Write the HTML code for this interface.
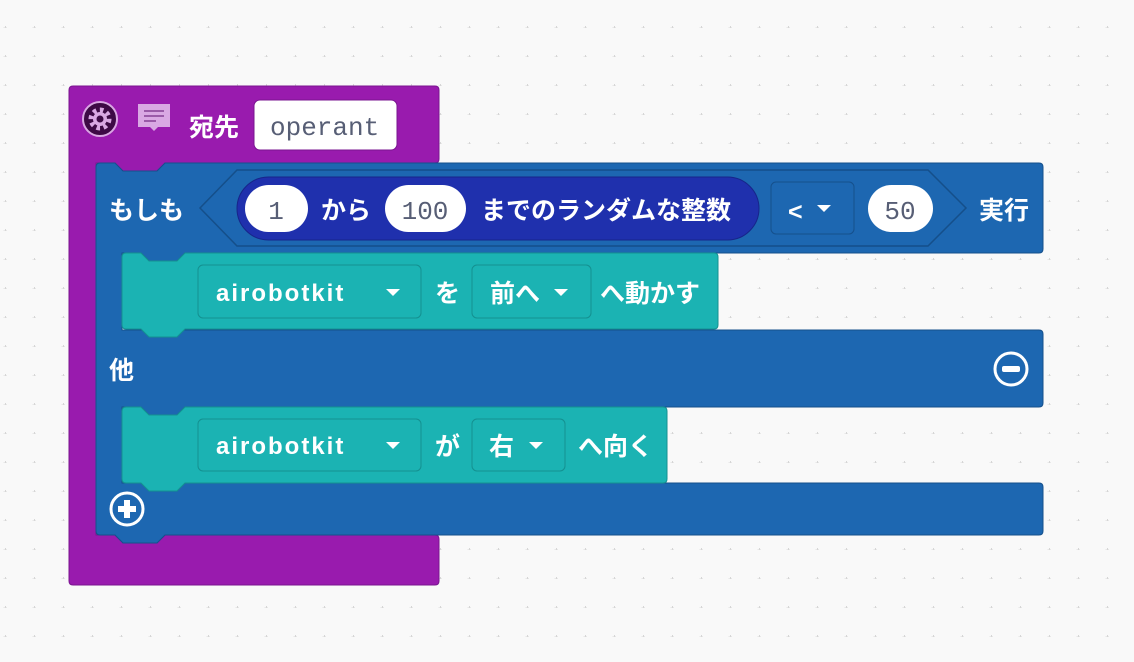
<!DOCTYPE html>
<html><head><meta charset="utf-8"><style>
html,body{margin:0;padding:0;background:#f9f9f9;}
svg{display:block}
.t{font-family:"Liberation Sans","Noto Sans CJK JP",sans-serif;font-weight:bold;font-size:25px;fill:#fff}
.a{font-family:"Liberation Sans",sans-serif;font-weight:bold;font-size:24px;fill:#fff;letter-spacing:2px}
.m{font-family:"Liberation Mono","DejaVu Sans Mono",monospace;font-size:26px;fill:#575e75}
</style></head><body>
<svg width="1134" height="662" viewBox="0 0 1134 662" xmlns="http://www.w3.org/2000/svg">
<defs><pattern id="g" x="-22" y="-1" width="29" height="29" patternUnits="userSpaceOnUse">
<path d="M27.5,27V31 M25.5,29H29.5" stroke="#d6d6d6" stroke-width="1"/></pattern></defs>
<rect width="1134" height="662" fill="#f9f9f9"/>
<rect width="1134" height="662" fill="url(#g)"/>
<!-- purple -->
<path d="M69,90 Q69,86 73,86 H435 Q439,86 439,90 V159 Q439,163 435,163 H165 L157,171 H123 L115,163 H96 V535 H115 L123,543 H157 L165,535 H435 Q439,535 439,539 V581 Q439,585 435,585 H73 Q69,585 69,581 Z" fill="#991bae" stroke="#7a1590"/>
<circle cx="100" cy="119" r="17" fill="#3d0a45" stroke="#d9a8e3" stroke-width="2"/>
<circle cx="100" cy="119" r="9" fill="none" stroke="#d9a8e3" stroke-width="5" stroke-dasharray="3.5 3.5"/>
<circle cx="100" cy="119" r="7" fill="#d9a8e3"/><circle cx="100" cy="119" r="3.5" fill="#3d0a45"/>
<path d="M138,104 H170 V127 H158 L154,131 L150,127 H138 Z" fill="#d9a8e3"/>
<path d="M144,111H164M144,116H164M144,121H156" stroke="#9a5aa8" stroke-width="2"/>
<text x="189" y="136" class="t">宛先</text>
<rect x="254" y="100" width="143" height="50" rx="6" fill="#fff" stroke="#7a1590"/>
<text x="270" y="135" class="m">operant</text>
<!-- blue -->
<path d="M96,167 Q96,163 100,163 H115 L123,171 H157 L165,163 H1039 Q1043,163 1043,167 V249 Q1043,253 1039,253 H185 L177,261 H149 L141,253 H122 V330 H1039 Q1043,330 1043,334 V403 Q1043,407 1039,407 H185 L177,415 H149 L141,407 H122 V483 H1039 Q1043,483 1043,487 V531 Q1043,535 1039,535 H165 L157,543 H123 L115,535 H100 Q96,535 96,531 Z" fill="#1d67b1" stroke="#15508c"/>
<text x="109" y="219" class="t">もしも</text>
<path d="M200,208 L237,170 H928 L966,208 L928,246 H237 Z" fill="#1d67b1" stroke="#154f8a" stroke-width="1.5"/>
<rect x="237" y="177" width="522" height="63" rx="31.5" fill="#1f30ad" stroke="#17258a"/>
<rect x="245" y="185" width="63" height="47" rx="23.5" fill="#fff"/>
<text x="276" y="219" class="m" text-anchor="middle">1</text>
<text x="321" y="219" class="t">から</text>
<rect x="385" y="185" width="81" height="47" rx="23.5" fill="#fff"/>
<text x="425" y="219" class="m" text-anchor="middle">100</text>
<text x="481" y="219" class="t">までのランダムな整数</text>
<rect x="771" y="182" width="83" height="52" rx="5" fill="#1d67b1" stroke="#15508c"/>
<text x="788" y="220" class="t">&lt;</text>
<path d="M817,205 h14 l-7,7 z" fill="#fff"/>
<rect x="868" y="185" width="65" height="47" rx="23.5" fill="#fff"/>
<text x="900" y="219" class="m" text-anchor="middle">50</text>
<text x="979" y="219" class="t">実行</text>
<text x="109" y="379" class="t">他</text>
<circle cx="1011" cy="369" r="16" fill="none" stroke="#fff" stroke-width="3"/>
<rect x="1002" y="366" width="18" height="6" rx="2" fill="#fff"/>
<circle cx="127" cy="509" r="16" fill="none" stroke="#fff" stroke-width="3"/>
<path d="M127,500 V518 M118,509 H136" stroke="#fff" stroke-width="6"/>
<!-- teal 1 -->
<path d="M122,257 Q122,253 126,253 H141 L149,261 H177 L185,253 H714 Q718,253 718,257 V325 Q718,329 714,329 H185 L177,337 H149 L141,329 H126 Q122,329 122,325 Z" fill="#1bb3b3" stroke="#149090"/>
<rect x="198" y="265" width="223" height="53" rx="5" fill="#1bb3b3" stroke="#149090"/>
<text x="216" y="301" class="a">airobotkit</text>
<path d="M386,289 h14 l-7,7 z" fill="#fff"/>
<text x="435" y="302" class="t">を</text>
<rect x="472" y="265" width="119" height="53" rx="5" fill="#1bb3b3" stroke="#149090"/>
<text x="490" y="302" class="t">前へ</text>
<path d="M554,289 h14 l-7,7 z" fill="#fff"/>
<text x="600" y="302" class="t">へ動かす</text>
<!-- teal 2 -->
<path d="M122,411 Q122,407 126,407 H141 L149,415 H177 L185,407 H663 Q667,407 667,411 V479 Q667,483 663,483 H185 L177,491 H149 L141,483 H126 Q122,483 122,479 Z" fill="#1bb3b3" stroke="#149090"/>
<rect x="198" y="419" width="223" height="52" rx="5" fill="#1bb3b3" stroke="#149090"/>
<text x="216" y="454" class="a">airobotkit</text>
<path d="M386,442 h14 l-7,7 z" fill="#fff"/>
<text x="435" y="455" class="t">が</text>
<rect x="472" y="419" width="93" height="52" rx="5" fill="#1bb3b3" stroke="#149090"/>
<text x="489" y="455" class="t">右</text>
<path d="M529,442 h14 l-7,7 z" fill="#fff"/>
<text x="578" y="455" class="t">へ向く</text>
</svg>
</body></html>
